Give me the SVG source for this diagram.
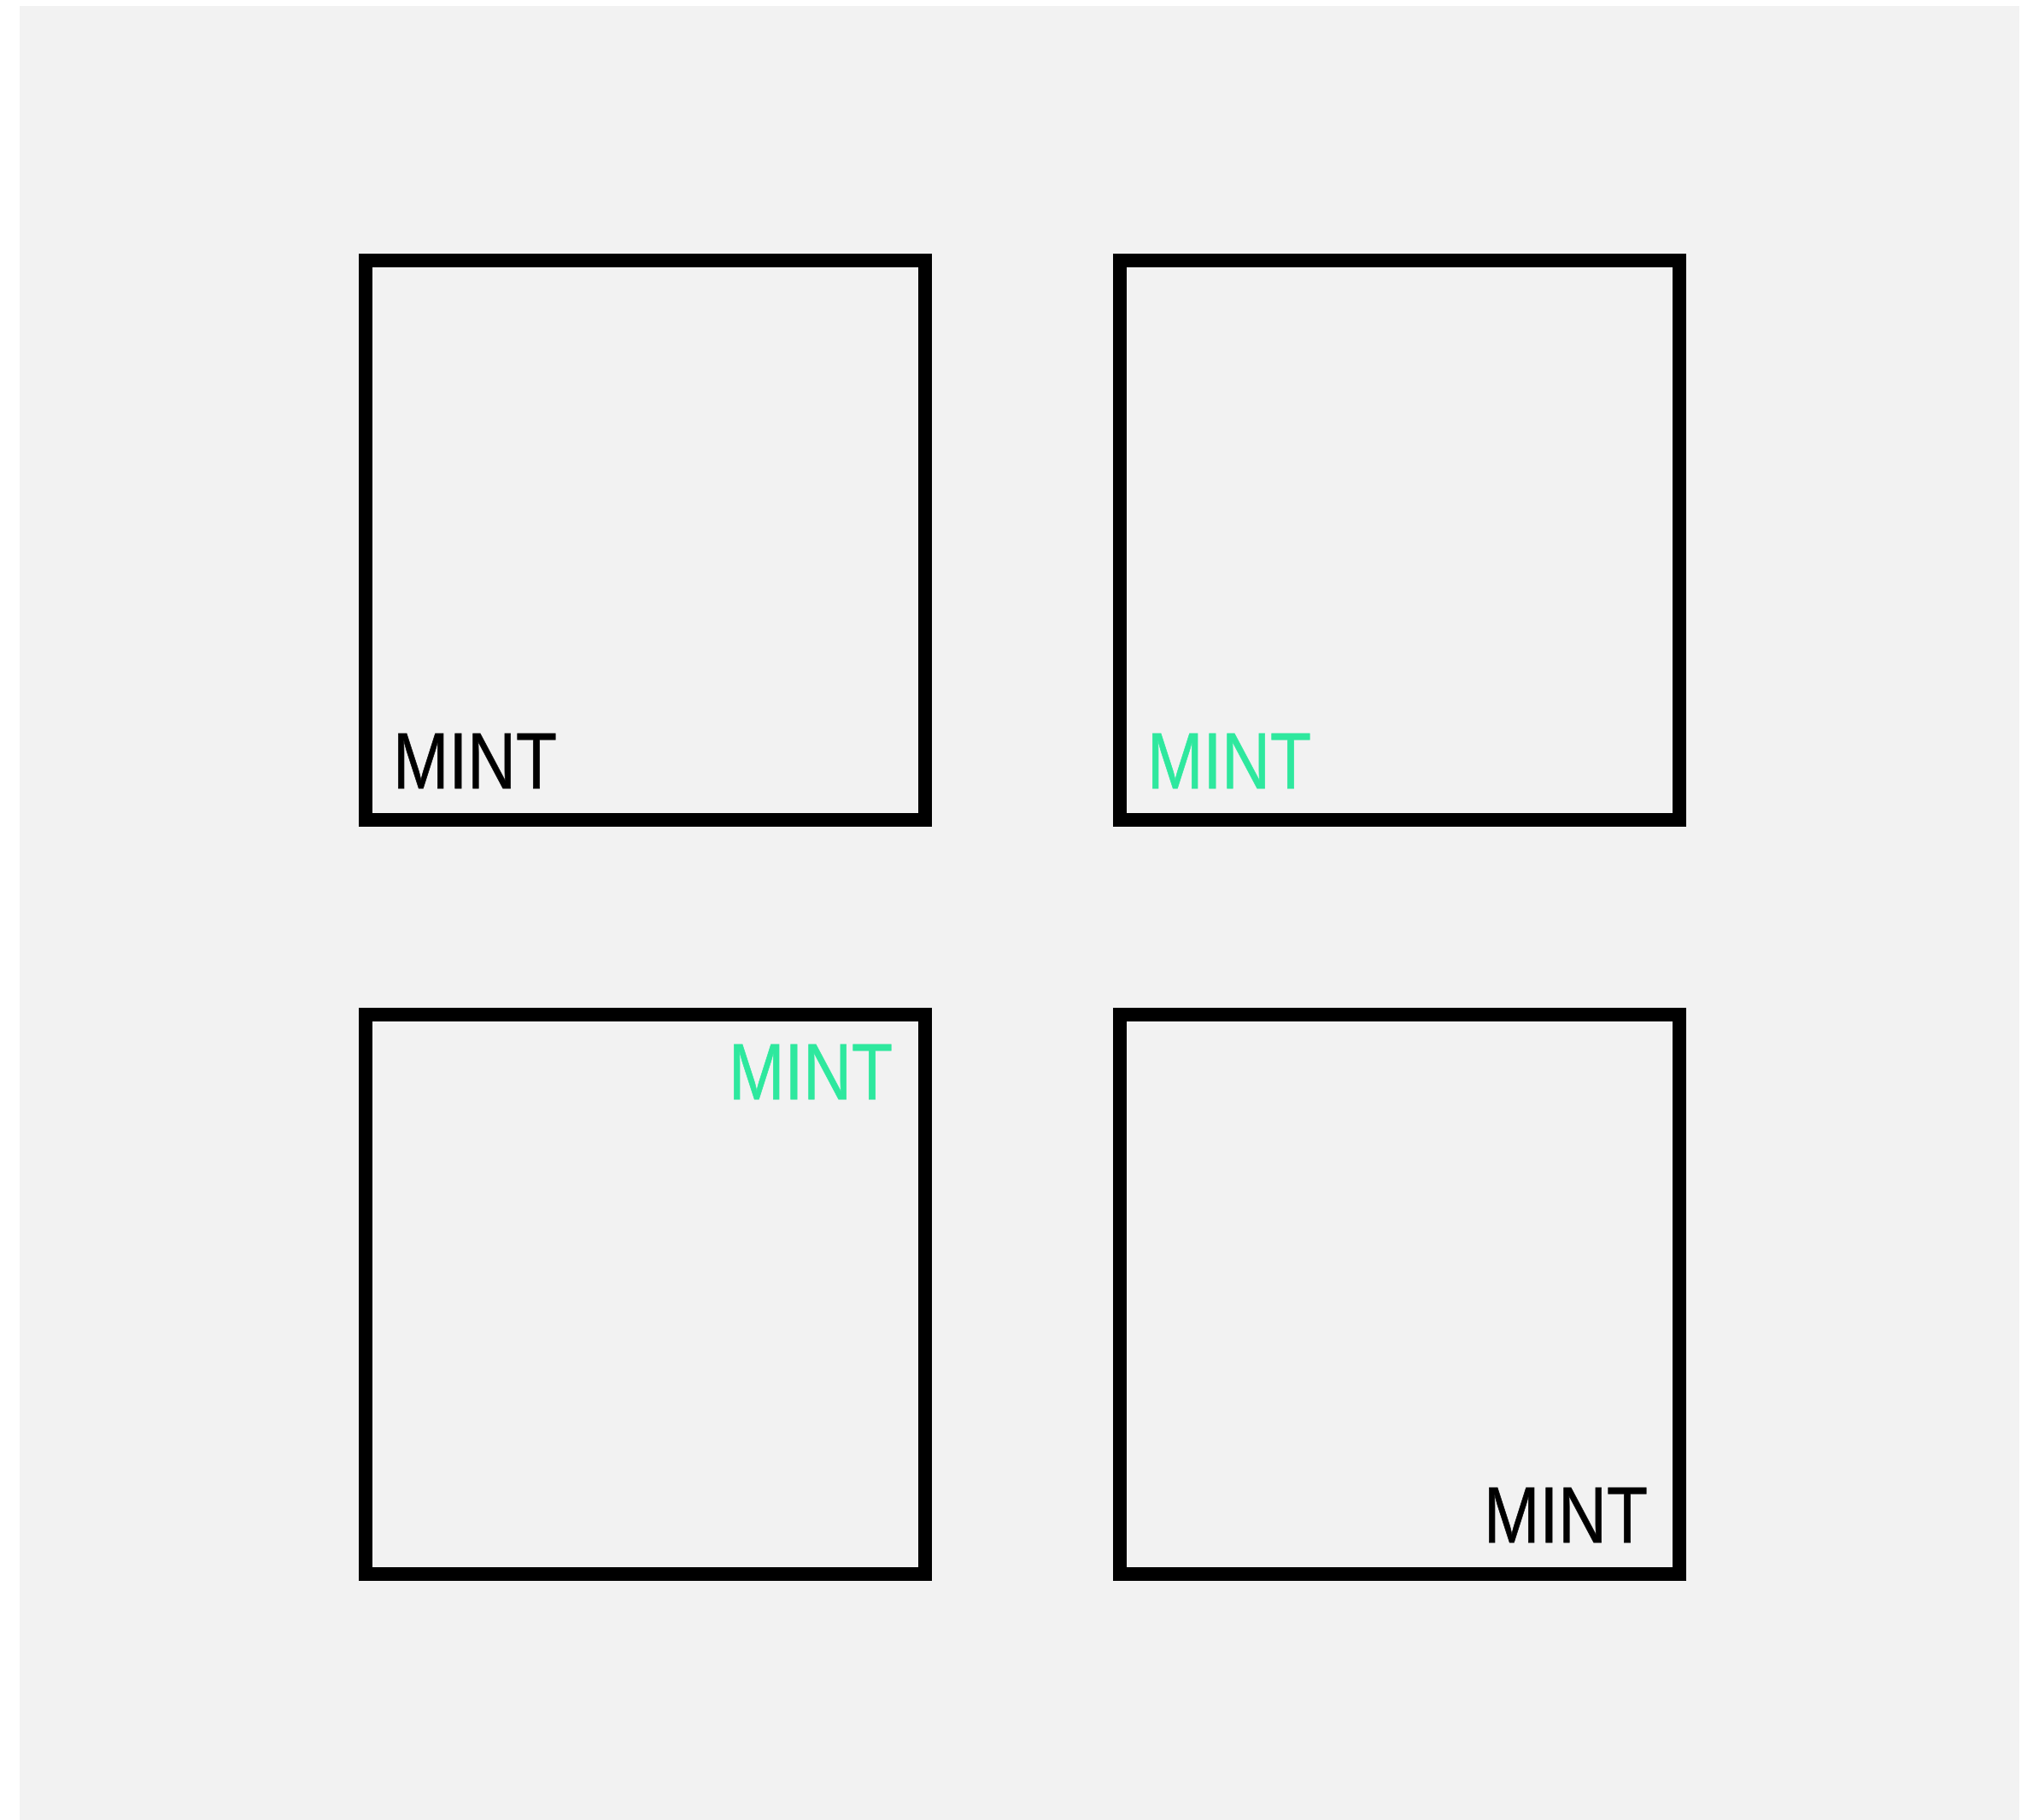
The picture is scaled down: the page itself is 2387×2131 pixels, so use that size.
<svg xmlns="http://www.w3.org/2000/svg" width="2387" height="2131" viewBox="0 0 2387 2131">
<style>
.box{fill:none;stroke:#000;stroke-width:16}
.lbl{font-family:"Liberation Sans",Arial,sans-serif;font-size:92px;stroke-width:0.8}
.dark{fill:#000;stroke:#000}
.mint{fill:#2ee89e;stroke:#2ee89e}
</style>
<rect x="0" y="0" width="2387" height="2131" fill="#ffffff"/>
<rect x="23" y="7" width="2341" height="2124" fill="#f2f2f2"/>
<g id="node1">
<rect class="box" x="428" y="305" width="655" height="655"/>
<text class="lbl dark" x="460" y="923" textLength="192" lengthAdjust="spacingAndGlyphs">MINT</text>
</g>
<g id="node2">
<rect class="box" x="1311" y="305" width="655" height="655"/>
<text class="lbl mint" x="1343" y="923" textLength="192" lengthAdjust="spacingAndGlyphs">MINT</text>
</g>
<g id="node3">
<rect class="box" x="428" y="1188" width="655" height="655"/>
<text class="lbl mint" x="853" y="1287" textLength="192" lengthAdjust="spacingAndGlyphs">MINT</text>
</g>
<g id="node4">
<rect class="box" x="1311" y="1188" width="655" height="655"/>
<text class="lbl dark" x="1737" y="1806" textLength="192" lengthAdjust="spacingAndGlyphs">MINT</text>
</g>
<g id="connectors"></g>
</svg>
